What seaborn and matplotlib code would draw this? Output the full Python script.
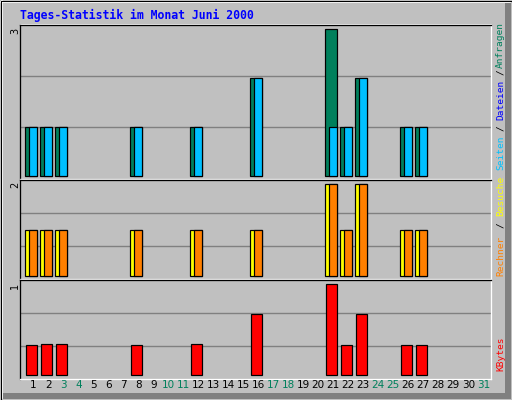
import numpy as np
import pandas as pd
import matplotlib
matplotlib.use("Agg")
import matplotlib.pyplot as plt
from matplotlib.patches import Rectangle
import seaborn as sns

# ---------------- data ----------------
title = "Tages-Statistik im Monat Juni 2000"
days = list(range(1, 32))
weekend_days = [3, 4, 10, 11, 17, 18, 24, 25, 31]

anfragen = [1, 1, 1, 0, 0, 0, 0, 1, 0, 0, 0, 1, 0, 0, 0, 2, 0, 0, 0, 0, 3, 1, 2, 0, 0, 1, 1, 0, 0, 0, 0]
dateien = [0] * 31
seiten = [1, 1, 1, 0, 0, 0, 0, 1, 0, 0, 0, 1, 0, 0, 0, 2, 0, 0, 0, 0, 1, 1, 2, 0, 0, 1, 1, 0, 0, 0, 0]
besuche = [1, 1, 1, 0, 0, 0, 0, 1, 0, 0, 0, 1, 0, 0, 0, 1, 0, 0, 0, 0, 2, 1, 2, 0, 0, 1, 1, 0, 0, 0, 0]
rechner = [1, 1, 1, 0, 0, 0, 0, 1, 0, 0, 0, 1, 0, 0, 0, 1, 0, 0, 0, 0, 2, 1, 2, 0, 0, 1, 1, 0, 0, 0, 0]
kbytes = [0.33, 0.34, 0.34, 0, 0, 0, 0, 0.33, 0, 0, 0, 0.34, 0, 0, 0, 0.67, 0, 0, 0, 0, 1.0, 0.33, 0.67, 0, 0, 0.33, 0.33, 0, 0, 0, 0]

panel_max_labels = ["3", "2", "1"]
right_labels = [
    ("Anfragen", "#00805C", 45),
    ("/", "#000000", 72.5),
    ("Dateien", "#0000FF", 100),
    ("/", "#000000", 128),
    ("Seiten", "#00C0FF", 153),
    ("Besuche", "#FFFF00", 196),
    ("/", "#000000", 225),
    ("Rechner", "#FF8000", 256),
    ("KBytes", "#FF0000", 354),
]

# ---------------- styling ----------------
BG = "#C0C0C0"
W, H = 512, 400
fig = plt.figure(figsize=(W / 100, H / 100), dpi=100, facecolor=BG)
PX = 0.72  # one pixel in points


def frac_rect(x0, y0, x1, y1):
    return [x0 / W, 1 - y1 / H, (x1 - x0) / W, (y1 - y0) / H]


# background overlay axes in pixel coordinates
bg = fig.add_axes([0, 0, 1, 1], zorder=0)
bg.set_xlim(0, W)
bg.set_ylim(H, 0)
bg.axis("off")
bg.add_patch(Rectangle((505, 3), 6, 396, color="#808080", lw=0))
bg.add_patch(Rectangle((3, 393), 508, 6, color="#808080", lw=0))
bg.plot([1.5, 1.5], [1, 398], color="white", lw=PX * 1.5)
bg.plot([1, 510], [1.5, 1.5], color="white", lw=PX * 1.5)
bg.plot([0.5, 0.5, 511.5, 511.5, 0.5], [0.5, 399.5, 399.5, 0.5, 0.5], color="black", lw=PX)
bg.plot([20, 491], [24, 24], color="white", lw=PX)

# x mapping: day centre px = 33.3 + 15*(d-1)
x_left = 1 + (20 - 33.3) / 15
x_right = 1 + (491 - 33.3) / 15

panels = [
    # (y_top_px, y_bot_px, baseline_px, px_per_unit)
    (25, 178.5, 176.3, 49.0),
    (179.5, 279.0, 276.3, 46.15),
    (280.0, 379.0, 375.3, 91.3),
]

axes = []
for (yt, yb, base, ppu) in panels:
    ax = fig.add_axes(frac_rect(20, yt, 491, yb), zorder=1)
    ax.set_facecolor(BG)
    ax.set_xlim(x_left, x_right)
    ax.set_ylim(-(yb - base) / ppu, (base - yt) / ppu)
    for f in (1 / 3, 2 / 3):
        ax.plot([0, 1], [f, f], transform=ax.transAxes, color="#808080", lw=PX * 1.4, zorder=0)
    axes.append(ax)


def draw_bars(ax, values, offset, width, color):
    d = [day + offset for day, v in zip(days, values) if v > 0]
    v = [v for v in values if v > 0]
    if not v:
        return
    df = pd.DataFrame({"day": d, "value": v})
    sns.barplot(data=df, x="day", y="value", native_scale=True, orient="x",
                width=width, color=color, saturation=1, edgecolor="black",
                linewidth=PX * 1.2, errorbar=None, ax=ax, zorder=3)


draw_bars(axes[0], anfragen, -0.163, 0.78, "#00805C")
draw_bars(axes[0], dateien, -0.09, 0.63, "#0000FF")
draw_bars(axes[0], seiten, -0.02, 0.493, "#00C0FF")
draw_bars(axes[1], besuche, -0.163, 0.78, "#FFFF00")
draw_bars(axes[1], rechner, -0.02, 0.493, "#FF8000")
draw_bars(axes[2], kbytes, -0.12, 0.693, "#FF0000")

for (yt, yb, base, ppu), ax in zip(panels, axes):
    ax.set_xlim(x_left, x_right)
    ax.set_ylim(-(yb - base) / ppu, (base - yt) / ppu)
    ax.set_xticks([])
    ax.set_yticks([])
    ax.set_xlabel("")
    ax.set_ylabel("")
    for s in ("top", "left"):
        ax.spines[s].set_color("black")
        ax.spines[s].set_linewidth(PX * 1.3)
    for s in ("bottom", "right"):
        ax.spines[s].set_color("white")
        ax.spines[s].set_linewidth(PX * 1.3)

# title
bg.text(20, 19.5, title, color="#0000FF", fontsize=8.3, fontweight="bold",
        family="DejaVu Sans Mono", ha="left", va="baseline")

# day labels along the bottom axis
for d in days:
    col = "#00805C" if d in weekend_days else "black"
    axes[2].text(d, -0.06, str(d), transform=axes[2].get_xaxis_transform(),
                 ha="center", va="center", fontsize=7.5, color=col,
                 family="DejaVu Sans")

# left max labels
for (yt, yb, base, ppu), lab in zip(panels, panel_max_labels):
    bg.text(15, yt + 5.5, lab, rotation=90, ha="center", va="center",
            fontsize=7, color="black", family="DejaVu Sans")

# right legend labels
for txt, col, yc in right_labels:
    bg.text(500.5, yc, txt, rotation=90, ha="center", va="center",
            fontsize=6.8, color=col, family="DejaVu Sans Mono")

fig.savefig("out.png", dpi=100, facecolor=BG)
